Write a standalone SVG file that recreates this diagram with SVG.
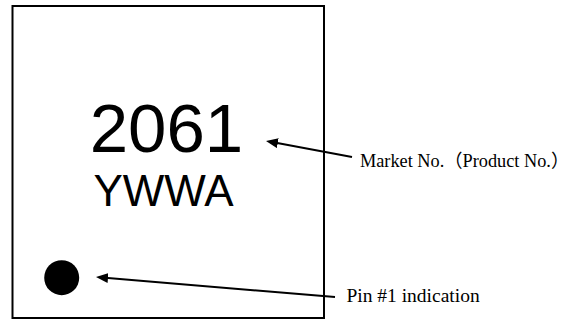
<svg xmlns="http://www.w3.org/2000/svg" width="570" height="320" viewBox="0 0 570 320">
<style>
.box{fill:#fff;stroke:#000;stroke-width:2}
.mark{font-family:"Liberation Sans",Arial,sans-serif;fill:#000;text-anchor:middle}
.lbl{font-family:"Liberation Serif","Noto Sans CJK JP",serif;fill:#000}
.lead{stroke:#000;stroke-width:2;fill:none;marker-end:url(#ah)}
</style>
<defs>
<marker id="ah" viewBox="0 0 12 10" refX="6" refY="5" markerWidth="12" markerHeight="10" markerUnits="userSpaceOnUse" orient="auto">
<path d="M0,0 L12,5 L0,10 z" fill="#000"/>
</marker>
</defs>
<rect width="570" height="320" fill="#fff"/>
<g id="package">
<rect class="box" x="12.5" y="6" width="311.5" height="312"/>
<text class="mark" x="166.5" y="152" font-size="69">2061</text>
<text class="mark" x="163.5" y="206" font-size="44">YWWA</text>
<circle cx="61.7" cy="277.7" r="17.5" fill="#000"/>
</g>
<g id="label-market">
<text class="lbl" x="360" y="166.7" font-size="18.3">Market No.（Product No.）</text>
</g>
<g id="label-pin">
<text class="lbl" x="346.4" y="301.7" font-size="19.5">Pin #1 indication</text>
</g>
<g id="connectors">
<line class="lead" x1="352" y1="157" x2="271.9" y2="142.1"/>
<line class="lead" x1="335" y1="297" x2="102" y2="277.5"/>
</g>
</svg>
